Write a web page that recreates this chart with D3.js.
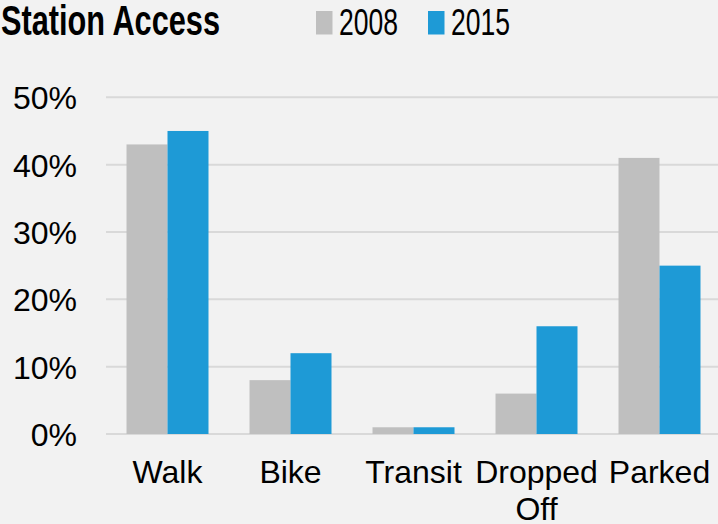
<!DOCTYPE html>
<meta charset="utf-8">
<head>
<script src="https://d3js.org/d3.v7.min.js"></script>
<style>
  body { margin: 0; background: #f2f2f2; }
  text { font-family: "Liberation Sans", Arial, sans-serif; fill: #000; }
</style>
</head>
<body>
<svg id="chart" width="718" height="524"></svg>
<script>
// chart data
var categories = [["Walk"], ["Bike"], ["Transit"], ["Dropped", "Off"], ["Parked"]];
var seriesNames = ["2008", "2015"];
var values2008 = [43, 8, 1, 6, 41];
var values2015 = [45, 12, 1, 16, 25];
var yTicks = [0, 10, 20, 30, 40, 50];

var colors = { "2008": "#bfbfbf", "2015": "#1e9ad6" };

var svg = d3.select("#chart");
svg.append("rect").attr("width", 718).attr("height", 524).attr("fill", "#f2f2f2");

var catKeys = categories.map(function(c) { return c.join(" "); });

var y = d3.scaleLinear().domain([0, 50]).range([434, 97.3]);
var x0 = d3.scaleBand().domain(catKeys).range([106, 721]).padding(0);
var x1 = d3.scaleBand().domain(seriesNames).range([0, x0.bandwidth()]).paddingInner(0).paddingOuter(0.5);

// gridlines
svg.append("g").selectAll("line")
  .data(yTicks)
  .enter().append("line")
  .attr("x1", 106).attr("x2", 718)
  .attr("y1", function(d) { return y(d); })
  .attr("y2", function(d) { return y(d); })
  .attr("stroke", "#d9d9d9")
  .attr("stroke-width", 2);

// y axis labels
var yAxis = svg.append("g")
  .attr("transform", "translate(77,0)")
  .call(d3.axisLeft(y).tickValues(yTicks).tickSize(0).tickPadding(0).tickFormat(function(d) { return d + "%"; }));
yAxis.select(".domain").remove();
yAxis.selectAll("text")
  .attr("font-size", 32)
  .attr("font-family", "Liberation Sans, Arial, sans-serif")
  .attr("fill", "#000")
  .attr("dy", "0.36em");

// bars
var rows = catKeys.map(function(k, i) {
  return { key: k, vals: [{ s: "2008", v: values2008[i] }, { s: "2015", v: values2015[i] }] };
});

svg.append("g").selectAll("g")
  .data(rows)
  .enter().append("g")
  .attr("transform", function(d) { return "translate(" + x0(d.key) + ",0)"; })
  .selectAll("rect")
  .data(function(d) { return d.vals; })
  .enter().append("rect")
  .attr("x", function(d) { return x1(d.s); })
  .attr("width", x1.bandwidth())
  .attr("y", function(d) { return y(d.v); })
  .attr("height", function(d) { return y(0) - y(d.v); })
  .attr("fill", function(d) { return colors[d.s]; });

// category labels
svg.append("g").selectAll("text")
  .data(categories)
  .enter().append("text")
  .attr("x", function(d) { return x0(d.join(" ")) + x0.bandwidth() / 2; })
  .attr("y", 483)
  .attr("text-anchor", "middle")
  .attr("font-size", 32)
  .selectAll("tspan")
  .data(function(d) { return d; })
  .enter().append("tspan")
  .attr("x", function() { return d3.select(this.parentNode).attr("x"); })
  .attr("dy", function(d, i) { return i === 0 ? 0 : 37; })
  .text(function(d) { return d; });

// title
svg.append("text")
  .attr("x", 1).attr("y", 35)
  .attr("font-size", 42)
  .attr("font-weight", "bold")
  .attr("textLength", 219)
  .attr("lengthAdjust", "spacingAndGlyphs")
  .text("Station Access");

// legend
var legendX = [316, 428];
var legend = svg.append("g").selectAll("g")
  .data(seriesNames)
  .enter().append("g")
  .attr("transform", function(d, i) { return "translate(" + legendX[i] + ",0)"; });
legend.append("rect")
  .attr("x", 0).attr("y", 11)
  .attr("width", 16.5).attr("height", 23.5)
  .attr("fill", function(d) { return colors[d]; });
legend.append("text")
  .attr("x", 23).attr("y", 35)
  .attr("font-size", 37)
  .attr("textLength", 59)
  .attr("lengthAdjust", "spacingAndGlyphs")
  .text(function(d) { return d; });
</script>
</body>
